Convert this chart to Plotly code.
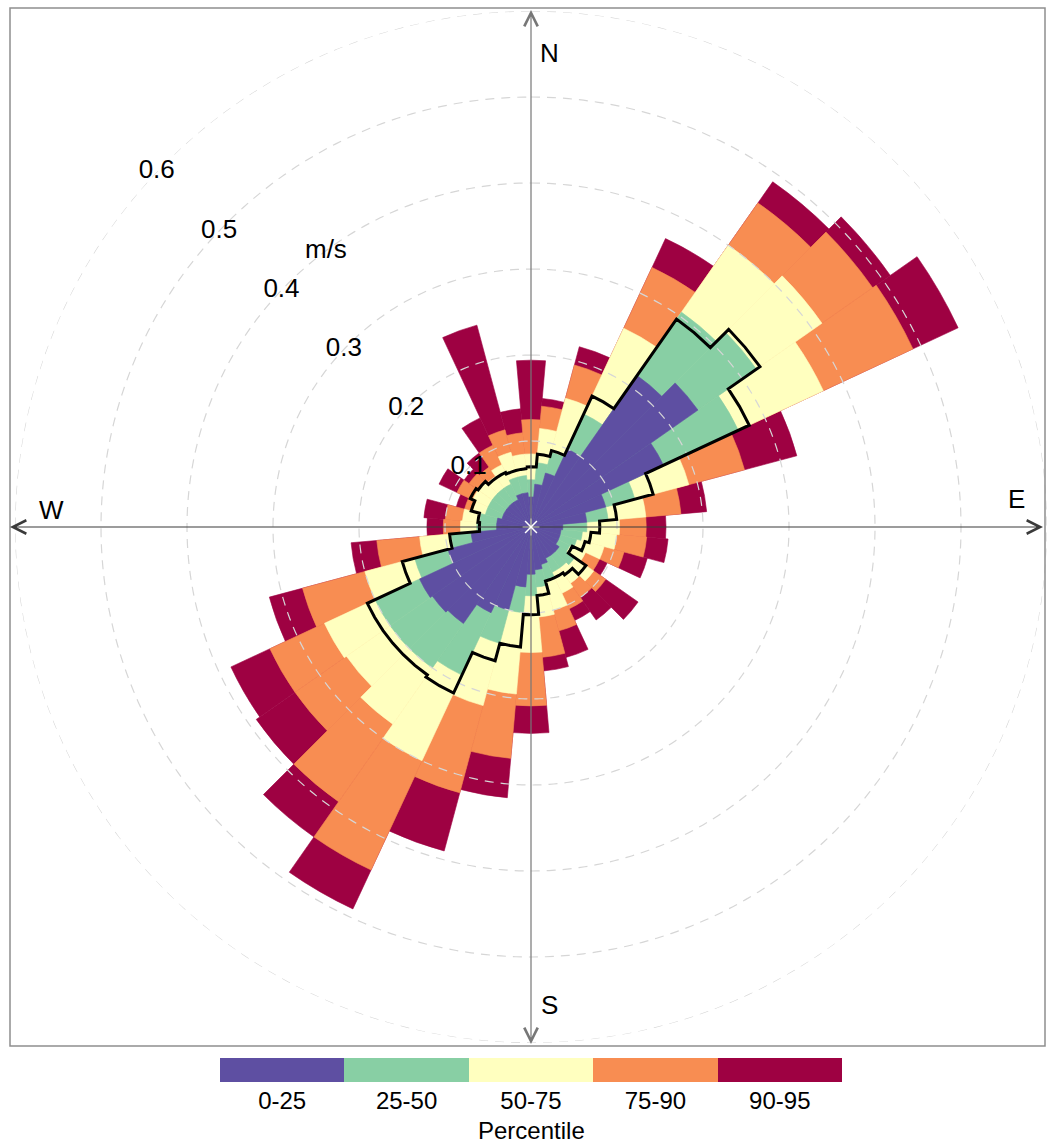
import numpy as np
import plotly.graph_objects as go

# ---------------- data ----------------
directions = list(range(0, 360, 10))  # sector centres, degrees (compass)

p25 = [0.035, 0.050, 0.065, 0.100, 0.215, 0.237, 0.170, 0.090, 0.065, 0.037,
       0.035, 0.035, 0.035, 0.040, 0.040, 0.040, 0.045, 0.050, 0.055, 0.070,
       0.100, 0.110, 0.137, 0.140, 0.143, 0.100, 0.070, 0.040, 0.040, 0.035,
       0.035, 0.035, 0.035, 0.035, 0.040, 0.040]
p50 = [0.055, 0.075, 0.090, 0.145, 0.305, 0.320, 0.266, 0.125, 0.090, 0.065,
       0.060, 0.055, 0.050, 0.062, 0.058, 0.058, 0.065, 0.070, 0.080, 0.100,
       0.140, 0.190, 0.200, 0.200, 0.200, 0.140, 0.093, 0.063, 0.060, 0.055,
       0.055, 0.055, 0.055, 0.055, 0.060, 0.060]
p75 = [0.085, 0.115, 0.155, 0.255, 0.400, 0.413, 0.375, 0.190, 0.134, 0.103,
       0.100, 0.088, 0.070, 0.089, 0.080, 0.085, 0.100, 0.105, 0.146, 0.195,
       0.215, 0.300, 0.280, 0.262, 0.265, 0.200, 0.130, 0.082, 0.080, 0.070,
       0.075, 0.075, 0.072, 0.080, 0.090, 0.085]
p90 = [0.125, 0.141, 0.195, 0.333, 0.460, 0.485, 0.490, 0.257, 0.175, 0.134,
       0.135, 0.112, 0.088, 0.106, 0.100, 0.105, 0.125, 0.152, 0.208, 0.270,
       0.320, 0.440, 0.390, 0.335, 0.335, 0.275, 0.180, 0.102, 0.100, 0.080,
       0.095, 0.088, 0.085, 0.105, 0.117, 0.110]
p95 = [0.194, 0.150, 0.217, 0.370, 0.490, 0.510, 0.548, 0.320, 0.205, 0.157,
       0.160, 0.140, 0.098, 0.152, 0.132, 0.120, 0.157, 0.168, 0.240, 0.316,
       0.390, 0.490, 0.440, 0.390, 0.385, 0.315, 0.210, 0.121, 0.125, 0.090,
       0.118, 0.095, 0.105, 0.140, 0.243, 0.138]
mean_ws = [0.070, 0.085, 0.092, 0.168, 0.295, 0.325, 0.280, 0.147, 0.100, 0.080,
           0.070, 0.065, 0.053, 0.078, 0.068, 0.065, 0.065, 0.080, 0.102, 0.140,
           0.161, 0.213, 0.210, 0.210, 0.210, 0.155, 0.095, 0.060, 0.062, 0.072,
           0.078, 0.075, 0.070, 0.070, 0.068, 0.068]

tick_values = [0.1, 0.2, 0.3, 0.4, 0.5, 0.6]
tick_labels = ["0.1", "0.2", "0.3", "0.4", "0.5", "0.6"]
band_labels = ["0-25", "25-50", "50-75", "75-90", "90-95"]
band_colors = ["#5E4FA2", "#88CFA4", "#FFFFBF", "#F88D52", "#9E0142"]
key_title = "Percentile"

sector_width = 10
label_angle = 313.5
unit_label = "m/s"
unit_pos = (0.399, 323.3)

W, H = 1047, 1143
FONT = "Liberation Sans, Arial, sans-serif"

fig = go.Figure()

# percentile bands: widest first, overlaid
bands = [p25, p50, p75, p90, p95]
for vals, col, name in reversed(list(zip(bands, band_colors, band_labels))):
    fig.add_trace(go.Barpolar(
        r=vals, theta=directions, width=[sector_width] * len(directions),
        marker=dict(color=col, line=dict(color=col, width=0.6)),
        name=name, showlegend=False, hoverinfo="skip", subplot="polar"))

# dashed grid circles drawn above the bars
circle_theta = np.linspace(0, 360, 361)
for t in tick_values:
    fig.add_trace(go.Scatterpolar(
        r=[t] * len(circle_theta), theta=circle_theta, mode="lines",
        line=dict(color="#d6d6d6", width=1.2, dash="9px,7px"),
        hoverinfo="skip", showlegend=False, subplot="polar"))

# mean as a stepped outline
step_r, step_t = [], []
half = sector_width / 2
for d, m in zip(directions, mean_ws):
    step_r += [m, m, m]
    step_t += [d - half, d, d + half]
step_r.append(step_r[0])
step_t.append(step_t[0])
fig.add_trace(go.Scatterpolar(
    r=step_r, theta=step_t, mode="lines",
    line=dict(color="black", width=3), hoverinfo="skip",
    showlegend=False, subplot="polar"))

# radial tick labels and unit
fig.add_trace(go.Scatterpolar(
    r=tick_values, theta=[label_angle] * len(tick_values), mode="text",
    text=tick_labels, textfont=dict(family=FONT, size=26, color="black"),
    hoverinfo="skip", showlegend=False, subplot="polar"))
fig.add_trace(go.Scatterpolar(
    r=[unit_pos[0]], theta=[unit_pos[1]], mode="text", text=[unit_label],
    textfont=dict(family=FONT, size=26, color="black"),
    hoverinfo="skip", showlegend=False, subplot="polar"))

# small white star at centre
fig.add_trace(go.Scatterpolar(
    r=[0], theta=[0], mode="markers",
    marker=dict(symbol="asterisk-open", size=14, color="white",
                line=dict(color="white", width=1.5)),
    hoverinfo="skip", showlegend=False, subplot="polar"))

# colour key as a one-row heatmap
n = len(band_colors)
cscale = []
for i, c in enumerate(band_colors):
    cscale.append([i / n, c])
    cscale.append([(i + 1) / n, c])
fig.add_trace(go.Heatmap(
    z=[list(range(n))], x=band_labels, y=["k"], colorscale=cscale,
    zmin=-0.5, zmax=n - 0.5, showscale=False, hoverinfo="skip",
    xaxis="x", yaxis="y"))

# geometry of the polar area (pixels)
cx, cy, rad = 531, 527, 516
fig.update_layout(
    width=W, height=H, margin=dict(l=0, r=0, t=0, b=0),
    paper_bgcolor="white", plot_bgcolor="white",
    polar=dict(
        domain=dict(x=[(cx - rad) / W, (cx + rad) / W],
                    y=[(H - cy - rad) / H, (H - cy + rad) / H]),
        bgcolor="white", barmode="overlay",
        radialaxis=dict(range=[0, 0.6], showline=False, showgrid=False,
                        showticklabels=False, ticks=""),
        angularaxis=dict(direction="clockwise", rotation=90, showline=False,
                         showgrid=False, showticklabels=False, ticks=""),
    ),
    xaxis=dict(domain=[220 / W, 842 / W], anchor="y", showgrid=False,
               zeroline=False, ticks="", showline=False,
               tickfont=dict(family=FONT, size=24, color="black"),
               ticklabelstandoff=2),
    yaxis=dict(domain=[(H - 1082) / H, (H - 1058) / H], anchor="x",
               showticklabels=False, showgrid=False, zeroline=False,
               ticks=""),
)

fig.add_annotation(x=531 / W, y=(H - 1130) / H, xref="paper", yref="paper",
                   text=key_title, showarrow=False, yanchor="middle",
                   font=dict(family=FONT, size=24, color="black"))

# frame
fig.add_shape(type="rect", xref="paper", yref="paper",
              x0=10 / W, x1=1045 / W, y0=(H - 1046) / H, y1=(H - 8) / H,
              line=dict(color="#8f8f8f", width=1.5), layer="above")

# compass axes with arrow heads
ends = {
    "N": (cx, 10, 0, cy - 10, "#777777"),
    "S": (cx, 1044, 0, cy - 1044, "#777777"),
    "W": (10, cy, cx - 10, 0, "#3a3a3a"),
    "E": (1043, cy, cx - 1043, 0, "#3a3a3a"),
}
for k, (hx, hy, ax, ay, col) in ends.items():
    fig.add_annotation(x=hx / W, y=(H - hy) / H, xref="paper", yref="paper",
                       ax=ax, ay=ay, axref="pixel", ayref="pixel", text="",
                       showarrow=True, arrowhead=5, arrowsize=2.2,
                       arrowwidth=1.2, arrowcolor=col)
letters = {"N": (549, 36), "E": (1027, 499), "S": (549, 1022), "W": (37, 510)}
for k, (lx, ly) in letters.items():
    fig.add_annotation(x=lx / W, y=(H - ly) / H, xref="paper", yref="paper",
                       text=k, showarrow=False,
                       font=dict(family=FONT, size=26, color="black"))

fig.write_html("out.html")
